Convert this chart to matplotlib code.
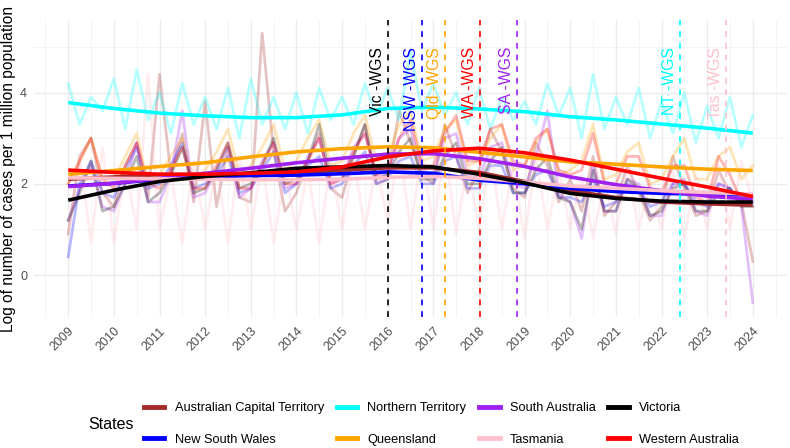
import numpy as np
import matplotlib
matplotlib.use("Agg")
import matplotlib.pyplot as plt
from matplotlib.lines import Line2D

plt.rcParams['font.family'] = ['Liberation Sans', 'DejaVu Sans']

# quarterly samples of the raw series, 2009.00 .. 2024.00
quarters = np.arange(2009, 2024.01, 0.25)
years = np.arange(2009, 2025)

states = ['Australian Capital Territory', 'New South Wales', 'Northern Territory',
          'Queensland', 'South Australia', 'Tasmania', 'Victoria', 'Western Australia']
colours = ['#A52A2A', '#0000FF', '#00FFFF', '#FFA500', '#A020F0', '#FFC0CB', '#000000', '#FF0000']

raw_act = [0.9, 2.6, 3.0, 1.8, 1.5, 2.4, 2.9, 1.7, 4.4, 2.2, 3.1, 1.6, 3.8, 1.5, 2.8, 1.7,
           1.6, 5.3, 2.7, 1.4, 1.8, 2.5, 3.1, 1.9, 1.7, 2.6, 3.3, 2.0, 2.1, 3.6, 2.9, 2.2,
           2.0, 3.3, 2.6, 1.8, 2.3, 3.2, 2.7, 1.9, 1.7, 2.9, 2.4, 1.6, 2.1, 1.4, 2.6, 1.3,
           1.6, 2.4, 1.8, 1.2, 1.5, 2.6, 1.9, 1.3, 1.4, 2.3, 1.8, 1.6, 0.3]
raw_nsw = [0.4, 2.0, 2.5, 1.8, 1.7, 2.3, 2.8, 1.9, 2.0, 2.4, 2.9, 1.9, 2.0, 2.2, 2.6, 1.8,
           1.9, 2.3, 2.7, 1.8, 2.0, 2.4, 2.6, 1.9, 2.0, 2.4, 2.7, 2.0, 2.1, 2.5, 2.6, 2.0,
           2.0, 2.5, 2.6, 1.9, 1.9, 2.4, 2.4, 1.8, 1.8, 2.2, 2.3, 1.7, 1.7, 1.6, 2.1, 1.5,
           1.6, 2.0, 1.9, 1.5, 1.6, 2.0, 2.0, 1.6, 1.5, 2.0, 1.9, 1.6, 1.6]
raw_nt = [4.2, 3.3, 3.9, 3.6, 4.3, 3.2, 4.5, 3.4, 4.0, 3.1, 4.2, 3.3, 3.9, 3.2, 4.1, 3.0,
          4.3, 3.3, 3.9, 3.2, 4.0, 3.1, 4.1, 3.4, 3.9, 3.3, 4.2, 3.5, 4.1, 3.4, 4.9, 3.6,
          4.2, 3.5, 4.0, 3.3, 4.1, 3.2, 3.9, 3.4, 3.8, 3.3, 4.2, 3.5, 4.1, 3.0, 4.4, 3.2,
          3.9, 3.3, 4.1, 3.0, 3.8, 3.1, 4.0, 2.9, 3.7, 3.0, 3.9, 2.8, 3.5]
raw_qld = [2.0, 2.5, 3.0, 2.1, 2.1, 2.6, 3.1, 2.0, 2.2, 2.6, 3.0, 2.1, 2.3, 2.7, 3.2, 2.2,
           2.4, 2.8, 3.3, 2.3, 2.5, 3.0, 3.4, 2.4, 2.5, 3.1, 3.5, 2.5, 2.6, 3.3, 3.6, 2.5,
           2.6, 3.2, 3.4, 2.4, 2.5, 3.0, 3.3, 2.3, 2.4, 2.9, 3.2, 2.2, 2.3, 2.5, 3.3, 2.1,
           2.2, 2.7, 2.9, 2.0, 2.1, 2.6, 3.0, 2.1, 2.1, 2.6, 2.8, 2.1, 2.4]
raw_sa = [1.2, 1.9, 2.4, 1.5, 1.4, 2.0, 2.9, 1.6, 1.6, 2.2, 3.6, 1.7, 1.8, 2.3, 2.8, 1.7,
          1.9, 2.5, 2.9, 1.9, 2.0, 2.6, 3.0, 2.0, 2.1, 2.8, 3.1, 2.2, 2.2, 3.0, 3.2, 2.3,
          2.2, 3.0, 3.1, 2.2, 2.1, 2.8, 2.9, 2.0, 1.9, 2.6, 3.6, 1.8, 1.6, 0.8, 2.4, 1.4,
          1.4, 2.1, 2.0, 1.3, 1.3, 2.0, 2.1, 1.4, 1.3, 2.0, 1.9, 1.5, -0.6]
raw_tas = [1.0, 2.6, 0.7, 2.8, 0.7, 2.4, 1.0, 4.4, 1.0, 2.2, 0.7, 2.5, 1.0, 2.4, 0.7, 2.6,
           1.0, 2.5, 0.7, 2.3, 1.0, 2.3, 0.7, 2.5, 1.0, 2.6, 1.0, 2.4, 1.2, 2.8, 1.0, 2.7,
           1.0, 2.9, 0.9, 2.5, 1.0, 2.7, 1.0, 2.4, 0.8, 2.6, 1.0, 2.3, 1.0, 2.2, 0.8, 2.1,
           0.9, 2.4, 1.0, 2.0, 1.0, 2.3, 0.8, 2.2, 1.0, 2.4, 1.0, 2.5, 1.6]
raw_vic = [1.2, 1.8, 2.5, 1.4, 1.5, 2.0, 2.6, 1.6, 1.8, 2.2, 2.8, 1.8, 1.9, 2.3, 2.9, 1.9,
           2.0, 2.4, 3.0, 2.0, 2.1, 2.5, 3.3, 2.1, 2.1, 2.6, 3.3, 2.1, 2.2, 2.7, 3.0, 2.1,
           2.1, 2.6, 2.9, 2.0, 2.0, 2.5, 2.8, 1.8, 1.8, 2.3, 2.6, 1.7, 1.6, 1.0, 2.3, 1.4,
           1.4, 2.1, 1.9, 1.3, 1.4, 1.9, 2.0, 1.4, 1.4, 1.8, 1.9, 1.5, 1.5]
raw_wa = [2.0, 2.5, 3.0, 2.1, 1.9, 2.4, 2.9, 2.0, 1.9, 2.3, 2.8, 1.9, 1.9, 2.4, 2.9, 1.9,
          1.9, 2.4, 2.9, 2.0, 2.0, 2.5, 3.0, 2.0, 2.1, 2.7, 3.1, 2.2, 2.3, 3.0, 3.4, 2.4,
          2.4, 3.1, 3.5, 2.5, 2.5, 3.2, 3.3, 2.5, 2.4, 3.0, 3.2, 2.3, 2.2, 2.3, 3.1, 2.0,
          2.0, 2.6, 2.6, 1.9, 1.8, 2.4, 2.4, 1.7, 1.6, 2.6, 2.2, 1.6, 1.7]

# smoothed trend, read once a year, 2009 .. 2024
fit_act = [2.10, 2.15, 2.20, 2.20, 2.22, 2.25, 2.30, 2.35, 2.35, 2.25, 2.05, 1.85, 1.70, 1.60, 1.56, 1.53]
fit_nsw = [1.95, 2.01, 2.10, 2.15, 2.18, 2.19, 2.22, 2.26, 2.23, 2.08, 2.00, 1.90, 1.83, 1.79, 1.77, 1.76]
fit_nt = [3.78, 3.65, 3.55, 3.49, 3.45, 3.45, 3.51, 3.65, 3.68, 3.64, 3.58, 3.47, 3.40, 3.31, 3.22, 3.11]
fit_qld = [2.21, 2.29, 2.38, 2.46, 2.59, 2.70, 2.77, 2.81, 2.79, 2.69, 2.59, 2.48, 2.43, 2.37, 2.32, 2.29]
fit_sa = [1.94, 2.01, 2.12, 2.23, 2.34, 2.46, 2.56, 2.65, 2.66, 2.55, 2.38, 2.15, 1.98, 1.85, 1.73, 1.66]
fit_tas = [2.13, 2.12, 2.11, 2.10, 2.09, 2.09, 2.10, 2.14, 2.16, 2.12, 2.04, 1.95, 1.90, 1.85, 1.81, 1.77]
fit_vic = [1.64, 1.86, 2.05, 2.16, 2.24, 2.34, 2.37, 2.40, 2.37, 2.21, 2.02, 1.79, 1.68, 1.62, 1.60, 1.60]
fit_wa = [2.30, 2.25, 2.21, 2.21, 2.23, 2.26, 2.37, 2.59, 2.72, 2.78, 2.68, 2.52, 2.32, 2.12, 1.93, 1.72]

raw = [raw_act, raw_nsw, raw_nt, raw_qld, raw_sa, raw_tas, raw_vic, raw_wa]
fits = [fit_act, fit_nsw, fit_nt, fit_qld, fit_sa, fit_tas, fit_vic, fit_wa]

# dates when each state started WGS
wgs_labels = ['Vic -WGS', 'NSW -WGS', 'Qld -WGS', 'WA -WGS', 'SA -WGS', 'NT -WGS', 'Tas -WGS']
wgs_dates = [2016.0, 2016.76, 2017.26, 2018.02, 2018.83, 2022.41, 2023.41]
wgs_colours = ['#000000', '#0000FF', '#FFA500', '#FF0000', '#A020F0', '#00FFFF', '#FFC0CB']

fig = plt.figure(figsize=(7.9, 4.48), dpi=100)
ax = fig.add_axes([34 / 790, 1 - 317 / 448, 753 / 790, 297 / 448])

# raw lines first, faint
for vals, col in zip(raw, colours):
    ax.plot(quarters, vals, color=col, alpha=0.28, lw=2.0, zorder=2)

# trend lines on top
for vals, col in zip(fits, colours):
    ax.plot(years, vals, color=col, lw=2.6, zorder=4, solid_capstyle='butt')

for lab, d, col in zip(wgs_labels, wgs_dates, wgs_colours):
    ax.axvline(d, color=col, ls=(0, (3.5, 3.5)), lw=1.2, zorder=5)
    ax.annotate(lab, (d, 5.0), xytext=(-3, 0), textcoords='offset pixels',
                rotation=90, ha='right', va='top', color=col, fontsize=11.3, zorder=6)

ax.set_xlim(2008.25, 2024.75)
ax.set_ylim(-0.92, 5.59)
ax.set_xticks(years)
ax.set_xticklabels([str(y) for y in years], rotation=45, ha='right', rotation_mode='anchor')
ax.set_xticks(np.arange(2008.5, 2025, 1.0), minor=True)
ax.set_yticks([0, 2, 4])
ax.set_yticks([1, 3, 5], minor=True)
ax.grid(which='major', color='#EBEBEB', lw=1.0, zorder=0)
ax.grid(which='minor', color='#F2F2F2', lw=0.6, zorder=0)
ax.set_axisbelow(True)
ax.tick_params(which='both', length=0, labelsize=9, labelcolor='#4D4D4D')
ax.tick_params(axis='x', pad=6)
ax.tick_params(axis='y', pad=5)
for s in ax.spines.values():
    s.set_visible(False)
ax.set_ylabel('Log of number of cases per 1 million population', fontsize=11.2, labelpad=3)

handles = [Line2D([], [], color=c, lw=3.5) for c in colours]
fig.legend(handles, states, loc='center left', bbox_to_anchor=(144 / 790, 1 - 424 / 448),
           ncol=4, frameon=False, fontsize=9.2, handlelength=1.6, handletextpad=0.8,
           columnspacing=1.0, labelspacing=1.5, borderpad=0, borderaxespad=0)
fig.text(88 / 790, 1 - 424 / 448, 'States', fontsize=11.5, va='center', ha='left')

fig.savefig('out.png', dpi=100)
